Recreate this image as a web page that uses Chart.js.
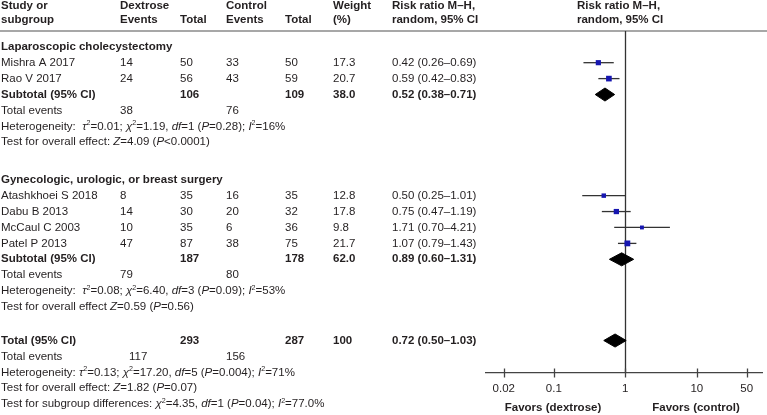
<!DOCTYPE html>
<html>
<head>
<meta charset="utf-8">
<script src="https://cdn.jsdelivr.net/npm/chart.js@4.4.1/dist/chart.umd.min.js"></script>
<style>
  html, body { margin: 0; padding: 0; background: #fff; }
</style>
</head>
<body>
<canvas id="forest" width="767" height="415"></canvas>
<script>
// Forest plot: dextrose vs control, risk ratio (M-H, random)
const studies    = ["Mishra A 2017", "Rao V 2017", "Atashkhoei S 2018", "Dabu B 2013", "McCaul C 2003", "Patel P 2013"];
const studyGroup = [0, 0, 1, 1, 1, 1];
const dexEvents  = [14, 24, 8, 14, 10, 47];
const dexTotal   = [50, 56, 35, 30, 35, 87];
const ctlEvents  = [33, 43, 16, 20, 6, 38];
const ctlTotal   = [50, 59, 35, 32, 36, 75];
const weights    = [17.3, 20.7, 12.8, 17.8, 9.8, 21.7];
const rr         = [0.42, 0.59, 0.50, 0.75, 1.71, 1.07];
const rrLow      = [0.26, 0.42, 0.25, 0.47, 0.70, 0.79];
const rrHigh     = [0.69, 0.83, 1.01, 1.19, 4.21, 1.43];

const groups         = ["Laparoscopic cholecystectomy", "Gynecologic, urologic, or breast surgery"];
const groupDexTotal  = [106, 187];
const groupCtlTotal  = [109, 178];
const groupDexEvents = [38, 79];
const groupCtlEvents = [76, 80];
const groupWeight    = ["38.0", "62.0"];
const groupRR        = [0.52, 0.89];
const groupLow       = [0.38, 0.60];
const groupHigh      = [0.71, 1.31];
const groupHet = [
  "Heterogeneity:  *τ*^2^=0.01; *χ*^2^=1.19, *df*=1 (*P*=0.28); *I*^2^=16%",
  "Heterogeneity:  *τ*^2^=0.08; *χ*^2^=6.40, *df*=3 (*P*=0.09); *I*^2^=53%"
];
const groupTest = [
  "Test for overall effect: *Z*=4.09 (*P*<0.0001)",
  "Test for overall effect *Z*=0.59 (*P*=0.56)"
];

const overallTotal  = [293, 287];
const overallEvents = [117, 156];
const overallWeight = "100";
const overallRR     = [0.72, 0.50, 1.03];   // estimate, low, high
const overallNotes = [
  "Heterogeneity: *τ*^2^=0.13; *χ*^2^=17.20, *df*=5 (*P*=0.004); *I*^2^=71%",
  "Test for overall effect: *Z*=1.82 (*P*=0.07)",
  "Test for subgroup differences: *χ*^2^=4.35, *df*=1 (*P*=0.04); *I*^2^=77.0%"
];

const tickValues = [0.02, 0.1, 1, 10, 50];
const favorLabels = ["Favors (dextrose)", "Favors (control)"];

// row layout (in row units on the y scale)
const groupStart = [0, 8.35];
const totalStart = 18.45;
const FONT = "'Liberation Sans', Arial, sans-serif";
const FS = 11.5;
const TXT = "#231f20";

const studyRow = studies.map((s, i) => {
  const g = studyGroup[i];
  return groupStart[g] + 1 + studyGroup.slice(0, i).filter(v => v === g).length;
});
const groupSize = groups.map((g, gi) => studyGroup.filter(v => v === gi).length);
const subtotalRow = groups.map((g, gi) => groupStart[gi] + groupSize[gi] + 1);

const fmt = v => v.toFixed(2);
const ciText = (e, l, h) => `${fmt(e)} (${fmt(l)}–${fmt(h)})`;

const DH = 0.41;  // diamond half height
function diamond(lo, est, hi, row) {
  return {
    data: [{x: lo, y: row}, {x: est, y: row - DH}, {x: hi, y: row}, {x: est, y: row + DH}, {x: lo, y: row}],
    showLine: true, fill: 'shape', backgroundColor: '#000', borderColor: '#000',
    borderWidth: 1, pointRadius: 0, order: 0
  };
}

const datasets = [
  {
    data: rr.map((v, i) => ({x: v, y: studyRow[i]})),
    pointStyle: 'rect',
    pointRadius: weights.map(w => 0.88 * Math.sqrt(w)),
    backgroundColor: '#1616b0', borderWidth: 0, order: 0
  },
  ...rr.map((v, i) => ({
    data: [{x: rrLow[i], y: studyRow[i]}, {x: rrHigh[i], y: studyRow[i]}],
    showLine: true, borderColor: '#333', borderWidth: 1.3, pointRadius: 0, order: 1
  })),
  ...groupRR.map((v, i) => diamond(groupLow[i], v, groupHigh[i], subtotalRow[i])),
  diamond(overallRR[1], overallRR[0], overallRR[2], totalStart)
];

function richText(ctx, str, x, y) {
  const parts = str.split(/(\*[^*]+\*|\^[^^]+\^)/).filter(Boolean);
  let cx = x;
  parts.forEach(p => {
    let t = p, dy = 0;
    if (p[0] === '*') { t = p.slice(1, -1); ctx.font = `italic ${FS}px ${FONT}`; }
    else if (p[0] === '^') { t = p.slice(1, -1); ctx.font = `${FS * 0.62}px ${FONT}`; dy = -3.5; }
    else ctx.font = `${FS}px ${FONT}`;
    ctx.fillText(t, cx, y + dy);
    cx += ctx.measureText(t).width;
  });
}

function txt(ctx, s, x, y, bold) {
  ctx.font = `${bold ? 'bold ' : ''}${FS}px ${FONT}`;
  ctx.fillText(String(s), x, y);
}

const forestPlugin = {
  id: 'forestTable',
  beforeDatasetsDraw(chart) {
    const {ctx, chartArea} = chart;
    const xs = chart.scales.x;
    ctx.save();
    // header rule
    ctx.strokeStyle = '#8a8a8a'; ctx.lineWidth = 1.6;
    ctx.beginPath(); ctx.moveTo(0, chartArea.top); ctx.lineTo(chart.width, chartArea.top); ctx.stroke();
    // line of no effect
    const x1 = Math.round(xs.getPixelForValue(1)) + 0.5;
    ctx.strokeStyle = '#333'; ctx.lineWidth = 1.3;
    ctx.beginPath(); ctx.moveTo(x1, chartArea.top); ctx.lineTo(x1, chartArea.bottom); ctx.stroke();
    ctx.restore();
  },
  afterDraw(chart) {
    const {ctx, chartArea} = chart;
    const xs = chart.scales.x, ys = chart.scales.y;
    const py = v => ys.getPixelForValue(v);
    ctx.save();
    ctx.fillStyle = TXT;
    ctx.textBaseline = 'middle';
    ctx.textAlign = 'left';

    // tick marks across the axis
    ctx.strokeStyle = '#444'; ctx.lineWidth = 1.3;
    xs.ticks.forEach(t => {
      const px = Math.round(xs.getPixelForValue(t.value)) + 0.5;
      ctx.beginPath(); ctx.moveTo(px, chartArea.bottom - 4.5); ctx.lineTo(px, chartArea.bottom + 4.5); ctx.stroke();
    });

    // column headers
    const h1 = 6, h2 = 19.5;
    txt(ctx, "Study or", 1, h1, true); txt(ctx, "subgroup", 1, h2, true);
    txt(ctx, "Dextrose", 120, h1, true); txt(ctx, "Events", 120, h2, true);
    txt(ctx, "Total", 180, h2, true);
    txt(ctx, "Control", 226, h1, true); txt(ctx, "Events", 226, h2, true);
    txt(ctx, "Total", 285, h2, true);
    txt(ctx, "Weight", 333, h1, true); txt(ctx, "(%)", 333, h2, true);
    txt(ctx, "Risk ratio M–H,", 392, h1, true); txt(ctx, "random, 95% CI", 392, h2, true);
    txt(ctx, "Risk ratio M–H,", 577, h1, true); txt(ctx, "random, 95% CI", 577, h2, true);

    // studies
    studies.forEach((s, i) => {
      const y = py(studyRow[i]);
      txt(ctx, s, 1, y); txt(ctx, dexEvents[i], 120, y); txt(ctx, dexTotal[i], 180, y);
      txt(ctx, ctlEvents[i], 226, y); txt(ctx, ctlTotal[i], 285, y);
      txt(ctx, weights[i].toFixed(1), 333, y);
      txt(ctx, ciText(rr[i], rrLow[i], rrHigh[i]), 392, y);
    });

    // subgroups
    groups.forEach((g, gi) => {
      txt(ctx, g, 1, py(groupStart[gi]), true);
      const r = subtotalRow[gi], y = py(r);
      txt(ctx, "Subtotal (95% CI)", 1, y, true);
      txt(ctx, groupDexTotal[gi], 180, y, true); txt(ctx, groupCtlTotal[gi], 285, y, true);
      txt(ctx, groupWeight[gi], 333, y, true);
      txt(ctx, ciText(groupRR[gi], groupLow[gi], groupHigh[gi]), 392, y, true);
      const ye = py(r + 1);
      txt(ctx, "Total events", 1, ye); txt(ctx, groupDexEvents[gi], 120, ye); txt(ctx, groupCtlEvents[gi], 226, ye);
      richText(ctx, groupHet[gi], 1, py(r + 2));
      richText(ctx, groupTest[gi], 1, py(r + 3));
    });

    // overall
    const yt = py(totalStart);
    txt(ctx, "Total (95% CI)", 1, yt, true);
    txt(ctx, overallTotal[0], 180, yt, true); txt(ctx, overallTotal[1], 285, yt, true);
    txt(ctx, overallWeight, 333, yt, true);
    txt(ctx, ciText(overallRR[0], overallRR[1], overallRR[2]), 392, yt, true);
    const yte = py(totalStart + 1);
    txt(ctx, "Total events", 1, yte); txt(ctx, overallEvents[0], 129, yte); txt(ctx, overallEvents[1], 226, yte);
    overallNotes.forEach((n, k) => richText(ctx, n, 1, py(totalStart + 2 + k)));

    // favours labels
    ctx.textAlign = 'center';
    txt(ctx, favorLabels[0], 553, 408, true);
    txt(ctx, favorLabels[1], 696, 408, true);
    ctx.restore();
  }
};

Chart.defaults.font.family = FONT;
Chart.defaults.font.size = FS;
Chart.defaults.color = TXT;

new Chart(document.getElementById('forest'), {
  type: 'scatter',
  data: { datasets },
  options: {
    responsive: false,
    animation: false,
    events: [],
    devicePixelRatio: 1,
    layout: { padding: { left: 486, right: 5, top: 31, bottom: 10.2 } },
    plugins: { legend: { display: false }, tooltip: { enabled: false } },
    scales: {
      x: {
        type: 'logarithmic', position: 'bottom',
        min: 0.01127, max: 81.7,
        afterBuildTicks: s => { s.ticks = tickValues.map(v => ({ value: v })); },
        ticks: { color: TXT, padding: 9, autoSkip: false, maxRotation: 0, callback: v => String(v) },
        grid: { display: false, drawTicks: false },
        border: { display: true, color: '#444', width: 1.3 }
      },
      y: { type: 'linear', display: false, reverse: true, min: -0.99, max: 20.49 }
    }
  },
  plugins: [forestPlugin]
});
</script>
</body>
</html>
